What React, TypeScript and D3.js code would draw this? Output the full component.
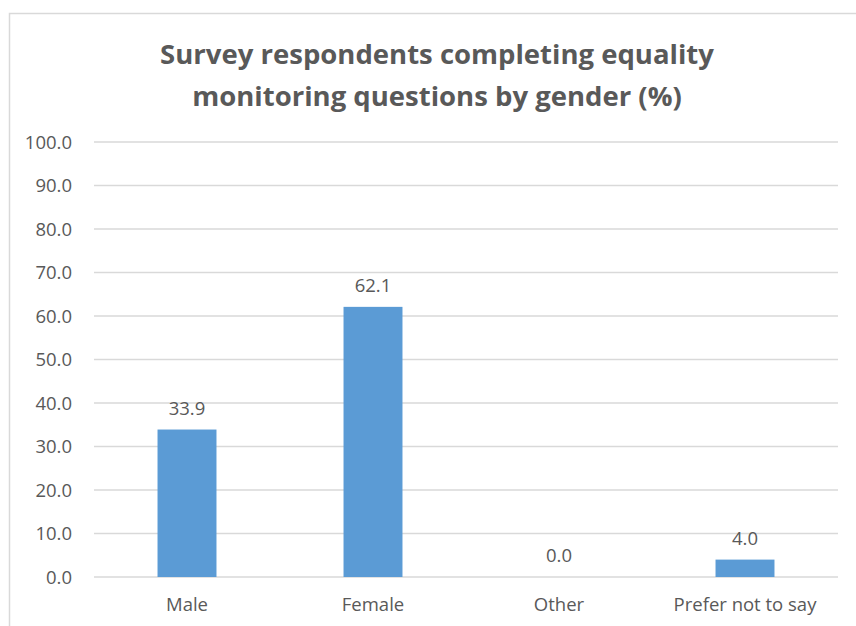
import * as d3 from "d3";

const categories = ["Male", "Female", "Other", "Prefer not to say"];
const values = [33.9, 62.1, 0.0, 4.0];
const yTicks = [0, 10, 20, 30, 40, 50, 60, 70, 80, 90, 100];
const titleLines = [
  "Survey respondents completing equality",
  "monitoring questions by gender (%)",
];

const W = 856;
const H = 626;
const font = "'Open Sans', 'Liberation Sans', sans-serif";
const textColor = "#595959";

function App() {
  const left = 94;
  const right = 838;
  const top = 142;
  const bottom = 577;

  const x = d3
    .scaleBand<string>()
    .domain(categories)
    .range([left, right])
    .paddingInner(0.683)
    .paddingOuter(0.683 / 2);
  const y = d3.scaleLinear().domain([0, 100]).range([bottom, top]);

  return (
    <svg
      width={W}
      height={H}
      style={{ position: "absolute", left: 0, top: 0, background: "#fff" }}
    >
      <rect x={9.5} y={13.5} width={W + 10} height={H + 10} fill="#fff" stroke="#d9d9d9" strokeWidth={1.5} />
      {titleLines.map((t, i) => (
        <text
          key={t}
          x={437}
          y={64 + i * 42}
          textAnchor="middle"
          fontFamily={font}
          fontWeight={700}
          fontSize={27.5}
          fill={textColor}
        >
          {t}
        </text>
      ))}
      {yTicks.map((t) => (
        <g key={t}>
          <line x1={left} x2={right} y1={y(t)} y2={y(t)} stroke="#d9d9d9" strokeWidth={1.5} />
          <text
            x={72}
            y={y(t)}
            dy="0.36em"
            textAnchor="end"
            fontFamily={font}
            fontSize={18.5}
            fill={textColor}
          >
            {t.toFixed(1)}
          </text>
        </g>
      ))}
      {categories.map((c, i) => (
        <g key={c}>
          <rect
            x={x(c)}
            y={y(values[i])}
            width={x.bandwidth()}
            height={y(0) - y(values[i])}
            fill="#5b9bd5"
          />
          <text
            x={x(c)! + x.bandwidth() / 2}
            y={y(values[i]) - 15}
            textAnchor="middle"
            fontFamily={font}
            fontSize={18.5}
            fill={textColor}
          >
            {values[i].toFixed(1)}
          </text>
          <text
            x={x(c)! + x.bandwidth() / 2}
            y={bottom + 34}
            textAnchor="middle"
            fontFamily={font}
            fontSize={18.5}
            fill={textColor}
          >
            {c}
          </text>
        </g>
      ))}
    </svg>
  );
}

export default App;
